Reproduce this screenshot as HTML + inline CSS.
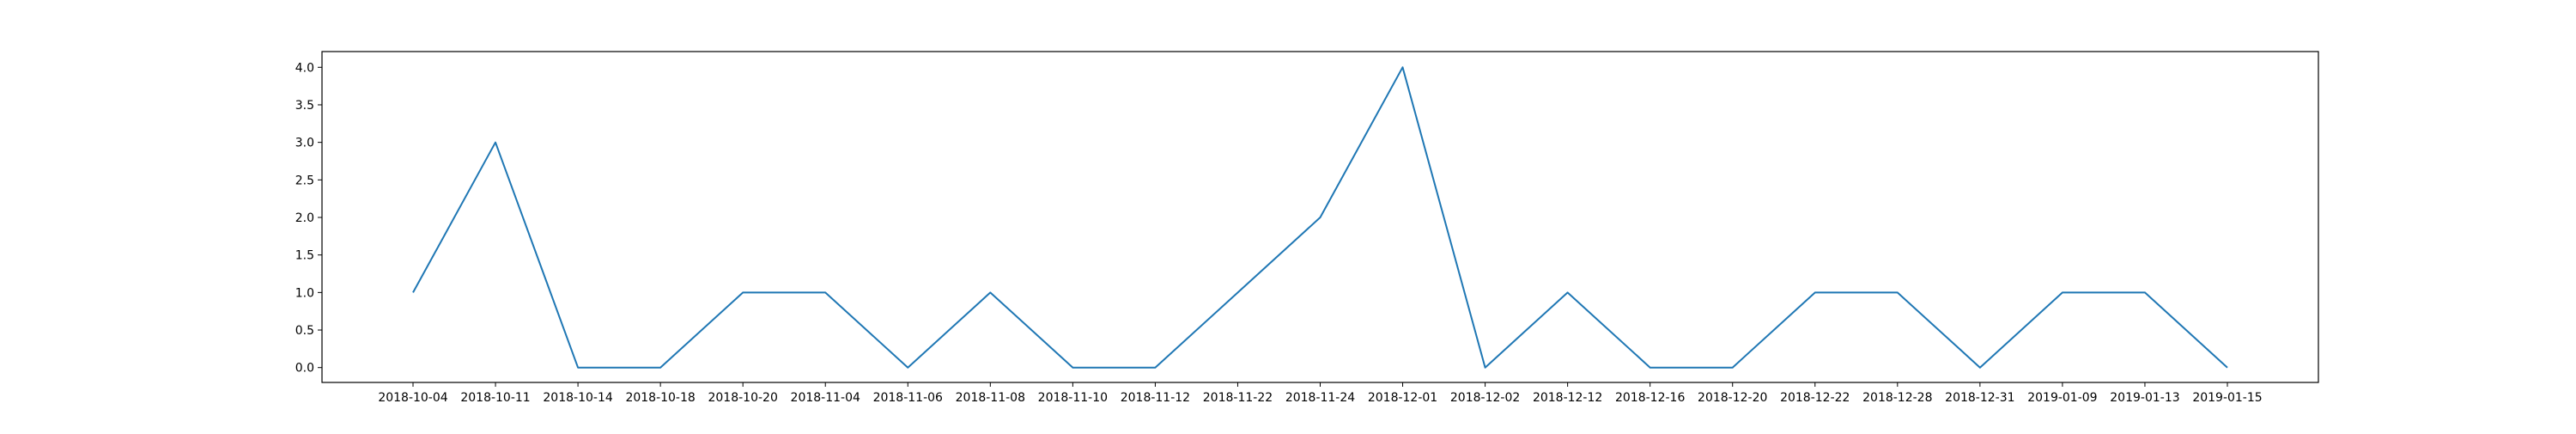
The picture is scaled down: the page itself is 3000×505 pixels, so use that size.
<!DOCTYPE html>
<html><head><meta charset="utf-8"><style>
html,body{margin:0;padding:0;background:#fff;}
svg text{font-family:"DejaVu Sans","Liberation Sans",sans-serif;font-size:14px;fill:#000;}
</style></head><body>
<svg id="chart" width="3000" height="500" xmlns="http://www.w3.org/2000/svg">
<rect x="0" y="0" width="3000" height="500" fill="#fff"/>
<g id="plot"></g>
</svg>
<script>
const categories = ["2018-10-04","2018-10-11","2018-10-14","2018-10-18","2018-10-20","2018-11-04","2018-11-06","2018-11-08","2018-11-10","2018-11-12","2018-11-22","2018-11-24","2018-12-01","2018-12-02","2018-12-12","2018-12-16","2018-12-20","2018-12-22","2018-12-28","2018-12-31","2019-01-09","2019-01-13","2019-01-15"];
const values = [1,3,0,0,1,1,0,1,0,0,1,2,4,0,1,0,0,1,1,0,1,1,0];
const yTicks = [0,0.5,1,1.5,2,2.5,3,3.5,4];
const yTickLabels = ["0.0","0.5","1.0","1.5","2.0","2.5","3.0","3.5","4.0"];

const NS="http://www.w3.org/2000/svg";
const L=375,R=2700,T=60,B=445;
const x0=481,x1=2594;
function xs(i){return x0+(x1-x0)*i/(categories.length-1);}
const yBase=427.7,yUnit=(427.7-78.3)/4;
function ys(v){return yBase-v*yUnit;}
const g=document.getElementById('plot');
function mk(tag,attrs){const e=document.createElementNS(NS,tag);for(const k in attrs)e.setAttribute(k,attrs[k]);g.appendChild(e);return e;}

categories.forEach((c,i)=>{
  const x=xs(i);
  const t=mk('line',{x1:x,x2:x,y1:B,y2:B+5,stroke:'#000','stroke-width':1});
  
  
  const lb=mk('text',{x:x,y:B+22,'text-anchor':'middle'});
  lb.textContent=c;
  
  
});
yTicks.forEach((v,i)=>{
  const y=ys(v);
  const t=mk('line',{x1:L-5,x2:L,y1:y,y2:y,stroke:'#000','stroke-width':1});
  
  
  const lb=mk('text',{x:L-9,y:y+5,'text-anchor':'end'});
  lb.textContent=yTickLabels[i];
  
  
});
const pts=values.map((v,i)=>xs(i).toFixed(1)+','+ys(v).toFixed(1)).join(' ');
const line=mk('polyline',{points:pts,fill:'none',stroke:'#1f77b4','stroke-width':2,'stroke-linejoin':'round'});


const fr=mk('rect',{x:L,y:T,width:R-L,height:B-T,fill:'none',stroke:'#000','stroke-width':1.2});


</script>
</body></html>
